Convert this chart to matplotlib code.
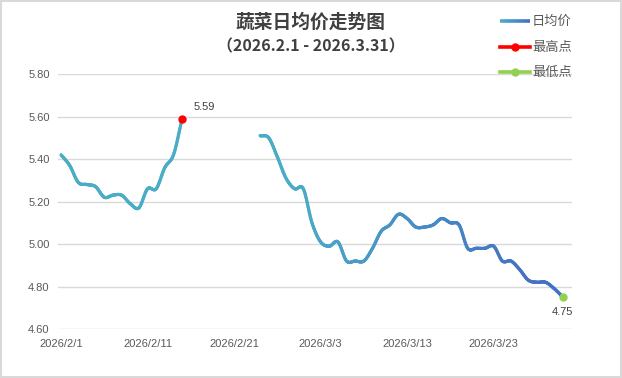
import numpy as np
import matplotlib
matplotlib.use("Agg")
import matplotlib.pyplot as plt
from matplotlib.collections import LineCollection
from matplotlib.colors import to_rgb
from matplotlib.lines import Line2D
from matplotlib.patches import Rectangle

plt.rcParams['font.family'] = ['Liberation Sans', 'Noto Sans CJK SC', 'DejaVu Sans']

# ---------------- data ----------------
title = "蔬菜日均价走势图"
subtitle = "（2026.2.1 - 2026.3.31）"
day_labels = ["2026/2/1", "2026/2/11", "2026/2/21", "2026/3/3", "2026/3/13", "2026/3/23"]
label_days = [0, 10, 20, 30, 40, 50]
days = list(range(59))  # 2026/2/1 .. 2026/3/31
seg1 = [5.42, 5.37, 5.29, 5.28, 5.27, 5.22, 5.23, 5.23, 5.19, 5.17,
        5.26, 5.26, 5.36, 5.42, 5.59]                       # 2/1 - 2/15
gap = [np.nan] * 8                                           # 2/16 - 2/23
seg2 = [5.51, 5.50, 5.41, 5.31, 5.26, 5.26, 5.10, 5.01, 4.99, 5.01,
        4.92, 4.92, 4.92, 4.98, 5.06, 5.09, 5.14, 5.12, 5.08, 5.08,
        5.09, 5.12, 5.10, 5.09, 4.98, 4.98, 4.98, 4.99, 4.92, 4.92,
        4.88, 4.83, 4.82, 4.82, 4.79, 4.75]                  # 2/24 - 3/31
prices = np.array(seg1 + gap + seg2, dtype=float)
legend_labels = ["日均价", "最高点", "最低点"]
y_ticks = [4.60, 4.80, 5.00, 5.20, 5.40, 5.60, 5.80]

# ---------------- helpers ----------------
def smooth(xs, ys, n=16):
    """Catmull-Rom style smoothing through every point (like Excel smoothed line)."""
    xs = np.asarray(xs, float); ys = np.asarray(ys, float)
    if len(xs) < 3:
        return xs, ys
    px = np.concatenate([[2*xs[0]-xs[1]], xs, [2*xs[-1]-xs[-2]]])
    py = np.concatenate([[2*ys[0]-ys[1]], ys, [2*ys[-1]-ys[-2]]])
    ox, oy = [], []
    t = np.linspace(0, 1, n, endpoint=False)
    for i in range(1, len(px)-2):
        p0, p1, p2, p3 = [np.array([px[j], py[j]]) for j in (i-1, i, i+1, i+2)]
        c1 = p1 + (p2 - p0) / 6.0
        c2 = p2 - (p3 - p1) / 6.0
        b = ((1-t)**3)[:, None]*p1 + (3*(1-t)**2*t)[:, None]*c1 + (3*(1-t)*t**2)[:, None]*c2 + (t**3)[:, None]*p2
        ox.extend(b[:, 0]); oy.extend(b[:, 1])
    ox.append(xs[-1]); oy.append(ys[-1])
    return np.array(ox), np.array(oy)

c_start = np.array(to_rgb("#4BACC6"))
c_end = np.array(to_rgb("#4472C4"))
def grad_color(f):
    f = np.clip(f, 0, 1)
    return c_start + (c_end - c_start) * f

# ---------------- figure ----------------
fig = plt.figure(figsize=(6.22, 3.78), dpi=100)
fig.patch.set_facecolor("white")
fig.add_artist(Rectangle((0.0015, 0.002), 0.997, 0.996, transform=fig.transFigure,
                         fill=False, edgecolor="#d9d9d9", linewidth=1.5))

ax = fig.add_axes([0.0932, 0.1296, 0.8264, 0.6745])
ax.set_ylim(4.60, 5.80)
ax.set_xlim(-0.35, 59.05)
ax.set_yticks(y_ticks)
ax.set_yticklabels([f"{v:.2f}" for v in y_ticks])
ax.set_xticks(label_days)
ax.set_xticklabels(day_labels)
ax.tick_params(axis="both", length=0, labelsize=8, colors="#595959")
ax.tick_params(axis="x", pad=7)
ax.tick_params(axis="y", pad=6)
for s in ax.spines.values():
    s.set_visible(False)
ax.grid(axis="y", color="#d9d9d9", linewidth=1.0)
ax.set_axisbelow(True)

# draw segments (split at NaN gaps)
x_arr = np.array(days, float)
valid = ~np.isnan(prices)
idx = np.where(valid)[0]
groups = np.split(idx, np.where(np.diff(idx) > 1)[0] + 1)
for g in groups:
    sx, sy = smooth(x_arr[g], prices[g])
    pts = np.column_stack([sx, sy]).reshape(-1, 1, 2)
    segs = np.concatenate([pts[:-1], pts[1:]], axis=1)
    mid = (sx[:-1] + sx[1:]) / 2
    cols = [grad_color((m - 27) / 27.0) for m in mid]
    lc = LineCollection(segs, colors=cols, linewidths=2.3, capstyle="round", joinstyle="round", zorder=3)
    ax.add_collection(lc)

imax = int(np.nanargmax(prices))
imin = int(np.nanargmin(prices))
ax.plot([days[imax]], [prices[imax]], "o", color="#FF0000", markersize=5, zorder=4)
ax.plot([days[imin]], [prices[imin]], "o", color="#92D050", markersize=5, zorder=4)
ax.annotate(f"{prices[imax]:.2f}", (days[imax], prices[imax]), xytext=(8, 5),
            textcoords="offset points", fontsize=8, color="#404040", ha="left", va="bottom")
ax.annotate(f"{prices[imin]:.2f}", (days[imin], prices[imin]), xytext=(0, -7),
            textcoords="offset points", fontsize=8, color="#404040", ha="center", va="top")

# titles
fig.text(0.5, 0.942, title, ha="center", va="center", fontsize=13.5, fontweight="bold",
         color="#404040", family=["Noto Sans CJK SC", "DejaVu Sans"])
fig.text(0.5, 0.878, subtitle, ha="center", va="center", fontsize=11.5, fontweight="bold",
         color="#404040", family=["Noto Sans CJK SC", "DejaVu Sans"])

# legend (manual)
W, H = 622.0, 378.0
def fx(px): return px / W
def fy(py): return 1 - py / H
rows = [21, 47, 72]
# gradient line
lx = np.linspace(500, 530, 20)
lsegs = [[(fx(lx[i]), fy(rows[0])), (fx(lx[i+1]), fy(rows[0]))] for i in range(len(lx)-1)]
lcols = [grad_color(i / (len(lx)-2)) for i in range(len(lx)-1)]
fig.add_artist(LineCollection(lsegs, colors=lcols, linewidths=2.6, transform=fig.transFigure))
fig.add_artist(Line2D([fx(500), fx(530)], [fy(rows[1])]*2, color="#FF0000", lw=2.6,
                      transform=fig.transFigure))
fig.add_artist(Line2D([fx(515)], [fy(rows[1])], marker="o", color="#FF0000", markersize=5,
                      transform=fig.transFigure))
fig.add_artist(Line2D([fx(500), fx(530)], [fy(rows[2])]*2, color="#92D050", lw=2.6,
                      transform=fig.transFigure))
fig.add_artist(Line2D([fx(515)], [fy(rows[2])], marker="o", color="#92D050", markersize=5,
                      transform=fig.transFigure))
for r, lab in zip(rows, legend_labels):
    fig.text(fx(532), fy(r), lab, ha="left", va="center", fontsize=9.5, color="#595959",
             family=["Noto Sans CJK SC", "DejaVu Sans"])

fig.savefig("out.png", dpi=100, facecolor="white")
